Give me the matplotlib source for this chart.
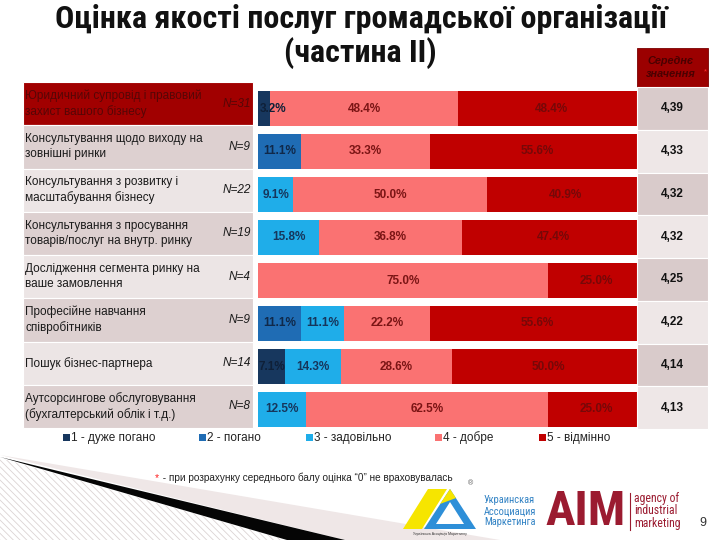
import matplotlib
matplotlib.use("Agg")
import matplotlib.pyplot as plt
from matplotlib.patches import Rectangle, Polygon
from matplotlib import font_manager as fm

plt.rcParams['font.family'] = ['Liberation Sans', 'DejaVu Sans']
plt.rcParams['hatch.linewidth'] = 0.6

# ---------------- data ----------------
services = [
    "Юридичний супровід і правовий\nзахист вашого бізнесу",
    "Консультування щодо виходу на\nзовнішні ринки",
    "Консультування з розвитку і\nмасштабування бізнесу",
    "Консультування з просування\nтоварів/послуг на внутр. ринку",
    "Дослідження сегмента ринку на\nваше замовлення",
    "Професійне навчання\nспівробітників",
    "Пошук бізнес-партнера",
    "Аутсорсингове обслуговування\n(бухгалтерський облік і т.д.)",
]
n_resp = [31, 9, 22, 19, 4, 9, 14, 8]
mean_scores = [4.39, 4.33, 4.32, 4.32, 4.25, 4.22, 4.14, 4.13]

rating_labels = ["1 - дуже погано", "2 - погано", "3 - задовільно", "4 - добре", "5 - відмінно"]
s1_very_bad = [3.2, 0, 0, 0, 0, 0, 7.1, 0]
s2_bad = [0, 11.1, 0, 0, 0, 11.1, 0, 0]
s3_satisf = [0, 0, 9.1, 15.8, 0, 11.1, 14.3, 12.5]
s4_good = [48.4, 33.3, 50.0, 36.8, 75.0, 22.2, 28.6, 62.5]
s5_excellent = [48.4, 55.6, 40.9, 47.4, 25.0, 55.6, 50.0, 25.0]
series = [s1_very_bad, s2_bad, s3_satisf, s4_good, s5_excellent]

title_lines = ["Оцінка якості послуг громадської організації", "(частина II)"]
mean_header = "Середнє\nзначення"
footnote = " - при розрахунку середнього балу оцінка “0” не враховувалась"

colors = ['#17375e', '#1f6cb4', '#1fade9', '#fa7272', '#c00000']
label_colors = ['#0f2038', '#10294a', '#16365c', '#7b1515', '#760808']

# narrow font if one is installed
avail = {f.name for f in fm.fontManager.ttflist}
narrow = next((f for f in ['Liberation Sans Narrow', 'Roboto Condensed', 'Arial Narrow',
                           'Open Sans Condensed', 'Noto Sans Condensed'] if f in avail), None)
narrow_fam = ([narrow] if narrow else []) + ['Liberation Sans', 'DejaVu Sans']

# ---------------- figure ----------------
fig = plt.figure(figsize=(7.2, 5.4), dpi=100)
bg = fig.add_axes([0, 0, 1, 1], zorder=0)
bg.set_xlim(0, 720)
bg.set_ylim(540, 0)
bg.axis('off')

# decorative wedge bottom-left
bg.add_patch(Polygon([(0, 455), (500, 540), (345, 540)], closed=True,
                     facecolor='#efe7e7', edgecolor='none'))
bg.add_patch(Polygon([(0, 458), (287, 540), (0, 540)], closed=True,
                     facecolor='white', edgecolor='#dcd3d3', hatch='\\\\\\\\\\', lw=0))
bg.add_patch(Polygon([(0, 457), (345, 540), (287, 540)], closed=True,
                     facecolor='#050505', edgecolor='none'))

# title (two lines)
t1 = bg.text(361, 19, title_lines[0], ha='center', va='center', fontsize=23,
             fontweight='bold', color='#111111', family=narrow_fam)
t2 = bg.text(360, 53, title_lines[1], ha='center', va='center', fontsize=23,
             fontweight='bold', color='#111111', family=narrow_fam)

# left table
row_top = 82.0
row_h = 43.25
for i, (lab, n) in enumerate(zip(services, n_resp)):
    y0 = row_top + i * row_h
    if i == 0:
        fc = '#a10000'
        tc = '#560606'
    else:
        fc = '#ddd0d0' if i % 2 == 1 else '#ece5e5'
        tc = '#1a1a1a'
    bg.add_patch(Rectangle((23, y0), 230, row_h, facecolor=fc, edgecolor='white', lw=0.8))
    yc = y0 + row_h / 2
    bg.text(25, yc, lab, ha='left', va='center', fontsize=8.5, color=tc, linespacing=1.35)
    bg.text(251, yc, f"N={n}", ha='right', va='center', fontsize=8.5,
            style='italic', color=tc)

# ---------------- bars ----------------
ax = fig.add_axes([258 / 720, 1 - 431 / 540, 387 / 720, 344 / 540], zorder=2)
ax.patch.set_visible(False)
ypos = list(range(len(services)))
left = [0.0] * len(services)
for k, (vals, col, lc) in enumerate(zip(series, colors, label_colors)):
    ax.barh(ypos, vals, left=left, height=0.825, color=col, edgecolor='none', lw=0)
    for j, v in enumerate(vals):
        if v <= 0:
            continue
        if v < 5:
            ax.text(left[j] + 0.4, j, f"{v:.1f}%", ha='left', va='center',
                    fontsize=8.5, fontweight='bold', color=lc)
        else:
            ax.text(left[j] + v / 2, j, f"{v:.1f}%", ha='center', va='center',
                    fontsize=8.5, fontweight='bold', color=lc)
    left = [a + b for a, b in zip(left, vals)]
ax.set_xlim(0, 100)
ax.set_ylim(len(services) - 0.5, -0.5)
ax.axis('off')

# ---------------- overlay: mean column, legend, footer ----------------
ov = fig.add_axes([0, 0, 1, 1], zorder=5)
ov.patch.set_visible(False)
ov.set_xlim(0, 720)
ov.set_ylim(540, 0)
ov.axis('off')

ov.add_patch(Rectangle((637, 48), 71, 39, facecolor='#9b0000', edgecolor='#7a0000', lw=0.6))
ov.text(671, 67.5, mean_header, ha='center', va='center', fontsize=7.8,
        fontweight='bold', style='italic', color='#4a0000', linespacing=1.3)
ov.text(705, 72, "*", ha='center', va='center', fontsize=5.5, color='#ff3030')
c_top = 87.0
c_h = (429 - 87) / 8
for i, m in enumerate(mean_scores):
    y0 = c_top + i * c_h
    fc = '#d9cbcb' if i % 2 == 0 else '#eee7e7'
    ov.add_patch(Rectangle((637, y0), 71, c_h, facecolor=fc, edgecolor='white', lw=0.8))
    ov.text(672.5, y0 + c_h / 2, f"{m:.2f}".replace('.', ','), ha='center',
            va='center', fontsize=8.5, fontweight='bold', color='#111111')

# legend
leg_x = [63, 199, 306, 435, 539]
for lx, lab, col in zip(leg_x, rating_labels, colors):
    ov.add_patch(Rectangle((lx, 434), 7, 7, facecolor=col, edgecolor='none'))
    ov.text(lx + 8, 438, lab, ha='left', va='center', fontsize=8.5, color='#222222')

# footnote
ov.text(155, 478, "*", ha='left', va='center', fontsize=7.5, color='#ff2020')
ov.text(160, 478, footnote, ha='left', va='center', fontsize=7.2, color='#222222')

# logos (approximate)
ov.add_patch(Polygon([(403, 529), (428, 489), (447, 489), (422, 529)],
                     closed=True, facecolor='#f6e500', edgecolor='none'))
ov.add_patch(Polygon([(424, 529), (450, 489), (476, 529)],
                     closed=True, facecolor='#2e8fd8', edgecolor='none'))
ov.add_patch(Polygon([(436, 524), (450, 502), (464, 524)],
                     closed=True, facecolor='white', edgecolor='none'))
ov.add_patch(Polygon([(440, 504), (450, 489), (456, 498)],
                     closed=True, facecolor='#f6e500', edgecolor='none'))
ov.text(471, 484, "®", ha='center', va='center', fontsize=5, color='#555555')
ov.text(440, 534, "Українська Асоціація Маркетингу", ha='center', va='center',
        fontsize=2.5, color='#333333')
ov.text(484, 511, "Украинская\nАссоциация\nМаркетинга", ha='left', va='center',
        fontsize=7.5, color='#3182c4', linespacing=1.1, family=narrow_fam)
aim = ov.text(586, 512, "AIM", ha='center', va='center', fontsize=36, fontweight='bold',
              color='#9b1b30', family=narrow_fam)
ov.plot([630, 630], [493, 530], color='#9b1b30', lw=0.8)
agency = ov.text(634, 511, "agency of\nindustrial\nmarketing", ha='left', va='center',
                 fontsize=8.5, color='#9b1b30', linespacing=0.95, family=narrow_fam)
ov.text(703, 523, "9", ha='center', va='center', fontsize=9, color='#333333')

# fit widths of condensed-looking texts to the reference extents
fig.canvas.draw()
r = fig.canvas.get_renderer()
for txt, target in [(t1, 618), (aim, 80), (agency, 47)]:
    w = txt.get_window_extent(r).width
    if w > target:
        txt.set_fontsize(txt.get_fontsize() * target / w)
t2.set_fontsize(t1.get_fontsize())

fig.savefig("out.png", dpi=100)
